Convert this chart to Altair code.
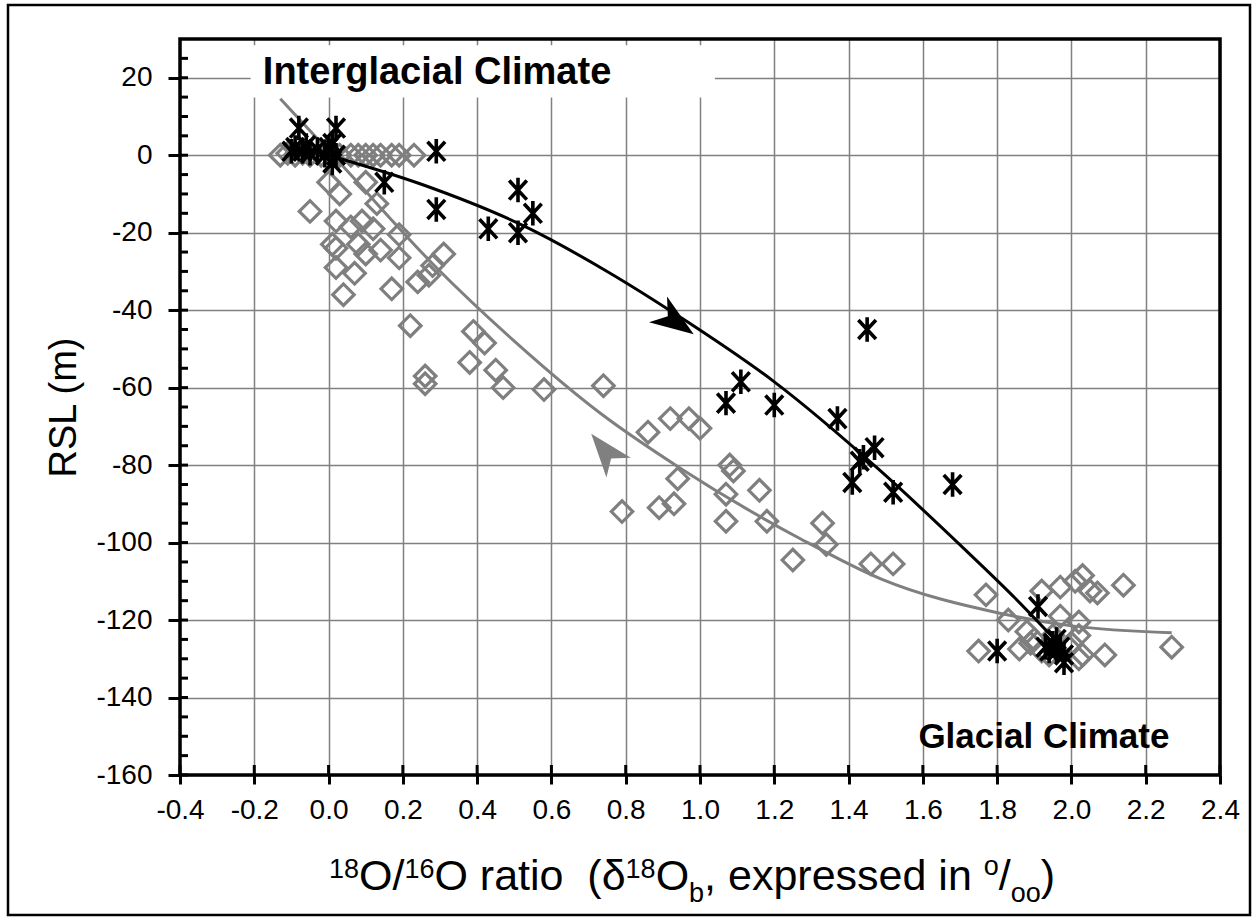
import altair as alt
import pandas as pd

# ---------------- data ----------------
# black asterisks
star_x = [-0.10, -0.09, -0.08, -0.07, -0.06, -0.05, -0.03, -0.01, 0.00, 0.01, 0.02, 0.02, 0.01,
          0.29, 0.15, 0.29, 0.51, 0.55, 0.43, 0.51,
          1.45, 1.11, 1.07, 1.20, 1.37, 1.44, 1.47, 1.43, 1.41, 1.52, 1.68,
          1.91, 1.80, 1.93, 1.95, 1.96, 1.97, 1.98, 1.98, 1.96, 1.94]
star_y = [1.0, 2.0, 7.0, 1.0, 2.5, 0.5, 1.5, 0.0, 2.0, 3.0, 7.0, 0.0, -2.0,
          1.0, -7.0, -14.0, -9.0, -15.0, -19.0, -20.0,
          -45.0, -58.5, -64.0, -64.5, -68.0, -78.0, -75.5, -79.0, -84.5, -87.0, -85.0,
          -116.5, -128.0, -127.0, -126.0, -128.0, -127.0, -129.0, -131.0, -125.0, -128.0]

# grey diamonds
dia_x = [-0.13, -0.11, -0.09, -0.07, -0.05, -0.02, 0.00, 0.03, 0.06, 0.08, 0.10, 0.12, 0.14, 0.17, 0.19, 0.23,
         0.00, 0.03, 0.10, 0.13, -0.05, 0.02, 0.06, 0.09, 0.12, 0.19, 0.01, 0.02, 0.08, 0.14, 0.19, 0.31,
         0.02, 0.07, 0.04, 0.10, 0.17, 0.24, 0.27, 0.28, 0.22, 0.39, 0.42, 0.38, 0.45, 0.47, 0.26, 0.26,
         0.58, 0.74, 0.79, 0.86, 0.92, 0.97, 1.00, 0.94, 0.89, 0.93, 1.08, 1.09, 1.07, 1.16, 1.07, 1.18,
         1.33, 1.34, 1.25, 1.46, 1.52, 1.77, 1.92, 1.97, 2.01, 2.03, 2.05, 2.07, 2.14, 1.83, 1.88, 1.97,
         2.02, 2.02, 1.75, 1.86, 1.89, 1.92, 1.95, 2.00, 2.02, 2.03, 2.09, 2.27, 1.90, 1.94]
dia_y = [0.0, 0.5, 0.0, 0.5, 0.0, 0.0, 0.5, 0.0, 0.0, 0.0, 0.0, 0.0, 0.0, 0.0, 0.0, 0.0,
         -7.0, -10.0, -7.0, -12.5, -14.5, -17.0, -18.5, -17.0, -19.0, -20.5, -23.0, -24.0, -23.0, -24.5, -26.5, -25.5,
         -29.0, -30.5, -36.0, -25.5, -34.5, -32.7, -31.0, -28.5, -44.0, -45.5, -48.5, -53.5, -55.5, -60.0, -57.0, -59.0,
         -60.5, -59.5, -92.0, -71.5, -68.0, -68.0, -70.5, -83.5, -91.0, -90.0, -80.0, -81.5, -87.5, -86.5, -94.5, -94.5,
         -95.0, -100.5, -104.5, -105.5, -105.5, -113.5, -112.5, -111.5, -110.0, -108.5, -112.5, -113.0, -111.0, -120.0, -123.0, -119.0,
         -120.5, -124.0, -128.0, -127.5, -126.0, -128.0, -124.0, -126.0, -130.0, -129.0, -129.0, -127.0, -125.0, -129.0]

# fitted curves
black_curve_x = [0.00, 0.25, 0.52, 0.75, 0.95, 1.20, 1.48, 1.71, 1.85, 1.97]
black_curve_y = [0.0, -7.5, -18.0, -30.0, -42.0, -58.5, -81.0, -101.5, -114.5, -126.5]
gray_curve_x = [-0.13, 0.04, 0.29, 0.50, 0.73, 0.95, 1.27, 1.49, 1.81, 2.00, 2.27]
gray_curve_y = [14.6, -3.0, -29.0, -48.0, -66.5, -81.0, -99.0, -109.5, -118.3, -121.5, -123.3]

# arrow heads on the curves: x, y, direction (deg, clockwise), colour
arrow_x = [0.935, 0.744]
arrow_y = [-43.0, -76.3]
arrow_angle = [35, 231]
arrow_color = ["#000000", "#808080"]

# axes
x_ticks = [-0.4, -0.2, 0.0, 0.2, 0.4, 0.6, 0.8, 1.0, 1.2, 1.4, 1.6, 1.8, 2.0, 2.2, 2.4]
y_ticks = [-160, -140, -120, -100, -80, -60, -40, -20, 0, 20]
y_minor = [v for v in range(-155, 30, 5) if v % 20 != 0]

# annotation labels
label_text = ["Interglacial Climate", "Glacial Climate"]
label_x = [-0.177, 1.588]
label_y = [18.5, -153.1]
label_size = [38, 35]
box_x, box_x2, box_y, box_y2 = [-0.21], [1.04], [14.9], [28.4]

# x-axis title pieces: text and role (n = normal, sup = superscript, sub = subscript)
NB = "\u00a0"
title_t = ["18", "O/", "16", "O" + NB + "ratio" + NB + NB + "(\u03b4", "18", "O", "b",
           "," + NB + "expressed" + NB + "in" + NB, "o", "/", "oo", ")"]
title_role = ["sup", "n", "sup", "n", "sup", "n", "sub", "n", "sup", "n", "sub", "n"]

# ---------------- layout of the composite x title ----------------
W, H = 1040, 736
FONT = "Liberation Sans"
F_N, F_S = 43, 27
BASE = 851
ADV = {c: 0.556 for c in "0123456789abdenop\u03b4"}
ADV.update({"O": 0.778, "/": 0.278, " ": 0.278, NB: 0.278, "r": 0.333, "t": 0.278, "i": 0.222,
            "(": 0.333, ")": 0.333, ",": 0.278, "x": 0.5, "s": 0.5})
sizes = [F_N if r == "n" else F_S for r in title_role]
widths = [sum(ADV.get(c, 0.556) for c in t) * s for t, s in zip(title_t, sizes)]
total = sum(widths)
start = 692 - 180 - total / 2
title_px, acc = [], start
for w in widths:
    title_px.append(acc)
    acc += w
title_py = [BASE if r == "n" else (BASE - 12 if r == "sup" else BASE + 12) for r in title_role]
title_py[8] = BASE - 15  # small raised "o"

# ---------------- chart ----------------
xs = alt.Scale(domain=[-0.4, 2.4], nice=False, zero=False)
ys = alt.Scale(domain=[-160, 30], nice=False, zero=False)

stars = pd.DataFrame({"x": star_x, "y": star_y})
dias = pd.DataFrame({"x": dia_x, "y": dia_y})
bcurve = pd.DataFrame({"x": black_curve_x, "y": black_curve_y, "i": range(len(black_curve_x))})
gcurve = pd.DataFrame({"x": gray_curve_x, "y": gray_curve_y, "i": range(len(gray_curve_x))})
arrows = pd.DataFrame({"x": arrow_x, "y": arrow_y, "a": arrow_angle, "c": arrow_color})
labels = pd.DataFrame({"t": label_text, "x": label_x, "y": label_y, "s": label_size})
box = pd.DataFrame({"x": box_x, "x2": box_x2, "y": box_y, "y2": box_y2})
xt = pd.DataFrame({"x": x_ticks})
yt = pd.DataFrame({"y": y_ticks})
ym = pd.DataFrame({"y": y_minor})
xtitle = pd.DataFrame({"t": title_t, "px": title_px, "py": title_py, "fs": sizes})

x_axis = alt.Axis(values=x_ticks, title=None, grid=True, gridColor="#808080", gridWidth=1.5,
                  domain=False, ticks=True, tickSize=9, tickWidth=3, tickColor="black",
                  labelFont=FONT, labelFontSize=28, labelColor="black", labelPadding=12,
                  labelFlush=False, labelOverlap=False,
                  labelExpr="datum.value < 0 ? '-' + format(-datum.value, '.1f') : format(datum.value, '.1f')")
y_axis = alt.Axis(values=y_ticks, title="RSL (m)", grid=True, gridColor="#808080", gridWidth=1.5,
                  domain=False, ticks=True, tickSize=12, tickWidth=3, tickColor="black",
                  labelFont=FONT, labelFontSize=28, labelColor="black", labelPadding=16,
                  labelFlush=False, labelOverlap=False,
                  labelExpr="datum.value < 0 ? '-' + format(-datum.value, 'd') : format(datum.value, 'd')",
                  titleFont=FONT, titleFontSize=38, titleFontWeight="normal", titleColor="black",
                  titlePadding=12)

grid_layer = alt.Chart(xt).mark_point(opacity=0).encode(
    x=alt.X("x:Q", scale=xs, axis=x_axis),
    y=alt.Y("x:Q", scale=ys, axis=y_axis),
)

white_box = alt.Chart(box).mark_rect(color="white").encode(
    x=alt.X("x:Q", scale=xs), x2="x2:Q", y=alt.Y("y:Q", scale=ys), y2="y2:Q")

ASTERISK = "M0,-1L0,1M-0.72,-0.78L0.72,0.78M-0.72,0.78L0.72,-0.78"
ARROW = "M1,0L-1,-0.72L-0.45,0L-1,0.72Z"

dia_layer = alt.Chart(dias).mark_point(shape="diamond", filled=False, size=460,
                                        stroke="#7f7f7f", strokeWidth=3.2, opacity=1).encode(
    x=alt.X("x:Q", scale=xs), y=alt.Y("y:Q", scale=ys))

gline = alt.Chart(gcurve).mark_line(color="#7f7f7f", strokeWidth=3, interpolate="monotone").encode(
    x=alt.X("x:Q", scale=xs), y=alt.Y("y:Q", scale=ys), order="i:O")
bline = alt.Chart(bcurve).mark_line(color="black", strokeWidth=3, interpolate="monotone").encode(
    x=alt.X("x:Q", scale=xs), y=alt.Y("y:Q", scale=ys), order="i:O")

star_layer = alt.Chart(stars).mark_point(shape=ASTERISK, filled=False, size=600,
                                          stroke="black", strokeWidth=3.6, opacity=1).encode(
    x=alt.X("x:Q", scale=xs), y=alt.Y("y:Q", scale=ys))

arrow_layer = alt.Chart(arrows).mark_point(shape=ARROW, filled=True, size=1900, opacity=1).encode(
    x=alt.X("x:Q", scale=xs), y=alt.Y("y:Q", scale=ys),
    angle=alt.Angle("a:Q", scale=None), color=alt.Color("c:N", scale=None))

label_layer = alt.Chart(labels).mark_text(font=FONT, fontWeight="bold", align="left",
                                           baseline="alphabetic", color="black").encode(
    x=alt.X("x:Q", scale=xs), y=alt.Y("y:Q", scale=ys), text="t:N", size=alt.Size("s:Q", scale=None))

x_in_ticks = alt.Chart(xt).mark_tick(color="black", thickness=3, size=10, opacity=1).encode(
    x=alt.X("x:Q", scale=xs), y=alt.value(H - 5))
y_in_ticks = alt.Chart(yt).mark_tick(color="black", thickness=3, size=8, opacity=1).encode(
    y=alt.Y("y:Q", scale=ys), x=alt.value(4))
y_minor_ticks = alt.Chart(ym).mark_tick(color="black", thickness=3, size=8, opacity=1).encode(
    y=alt.Y("y:Q", scale=ys), x=alt.value(4))

frame = alt.Chart(alt.Data(values=[{"k": 1}])).mark_rect(filled=False, stroke="black", strokeWidth=3.5).encode(
    x=alt.value(0), x2=alt.value(W), y=alt.value(0), y2=alt.value(H))
outer = alt.Chart(alt.Data(values=[{"k": 1}])).mark_rect(filled=False, stroke="black", strokeWidth=2.5).encode(
    x=alt.value(-172), x2=alt.value(1070), y=alt.value(-34), y2=alt.value(876))

xtitle_layer = alt.Chart(xtitle).mark_text(font=FONT, align="left", baseline="alphabetic", color="black").encode(
    x=alt.X("px:Q", scale=None), y=alt.Y("py:Q", scale=None), text="t:N", size=alt.Size("fs:Q", scale=None))

chart = alt.layer(
    grid_layer, white_box, dia_layer, gline, bline, star_layer, arrow_layer, label_layer,
    x_in_ticks, y_in_ticks, y_minor_ticks, frame, outer, xtitle_layer
).properties(
    width=W, height=H,
    autosize=alt.AutoSizeParams(type="none"),
    padding={"left": 180, "top": 39, "right": 37, "bottom": 146},
    background="white",
).configure_view(stroke=None)

chart.save("out.html", embed_options={"renderer": "svg", "actions": False})
